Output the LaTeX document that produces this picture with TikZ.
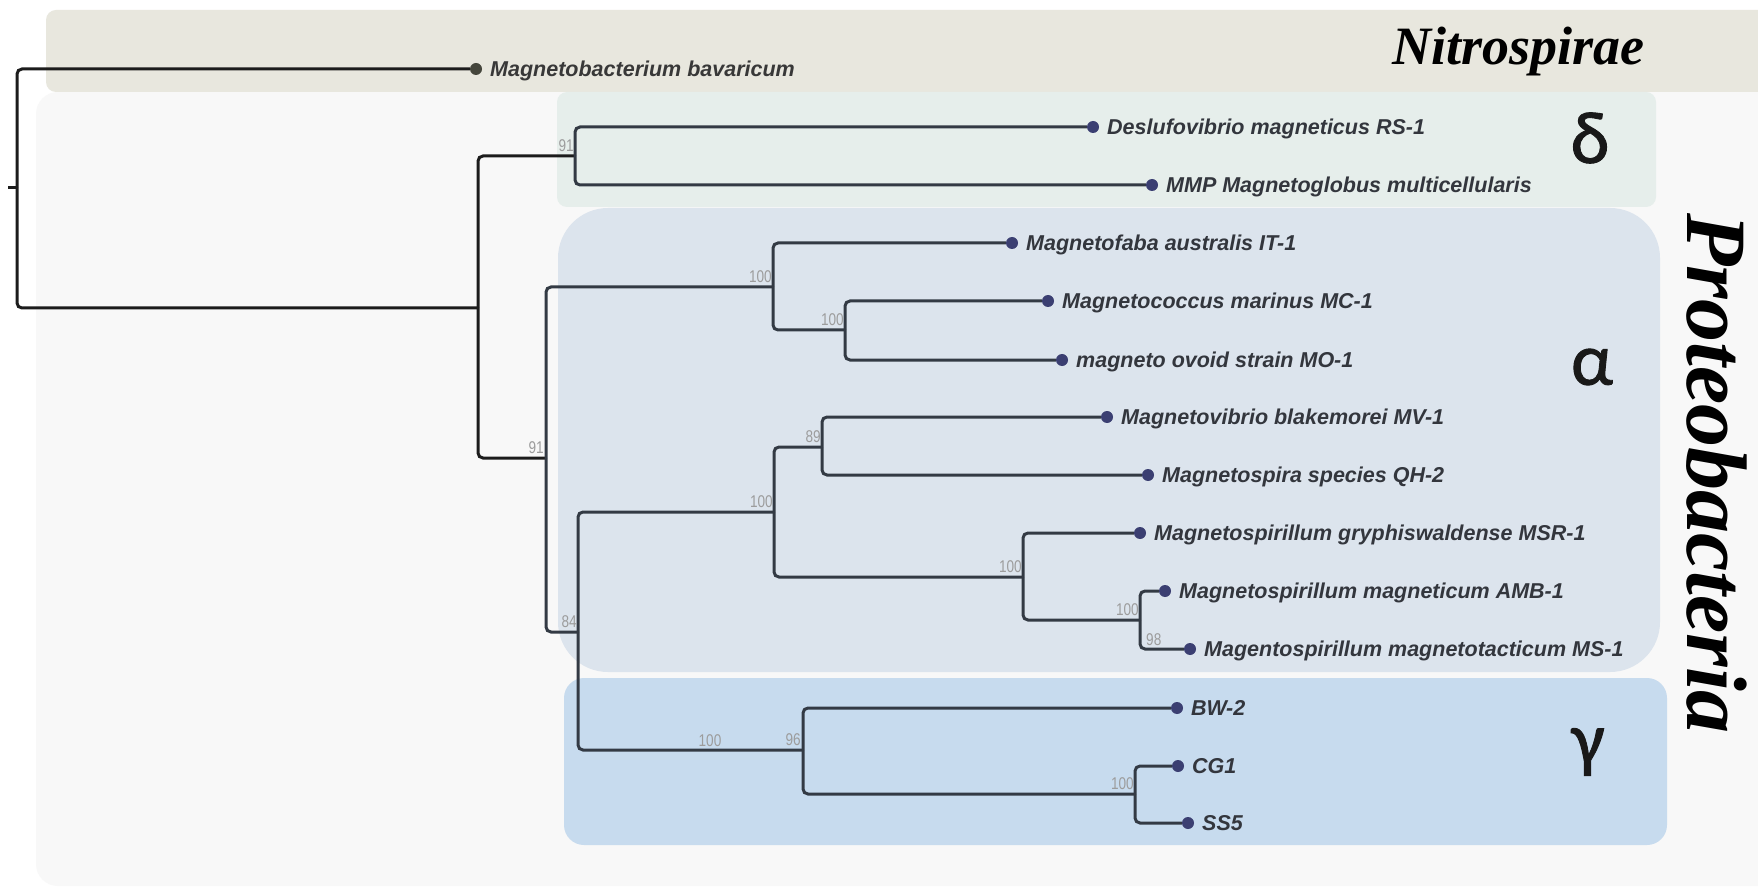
\documentclass[tikz,border=0pt]{standalone}
\usepackage{fontspec}
\setmainfont{Liberation Sans}
\newfontfamily\labfont{Liberation Sans}
\newfontfamily\bsfont[FakeStretch=0.8]{Liberation Sans}
\newfontfamily\titfont{Liberation Serif}
\newfontfamily\grkfont[FakeBold=1.2]{Carlito}
\definecolor{panelc}{HTML}{F8F8F8}
\definecolor{nitroc}{HTML}{E8E7DE}
\definecolor{deltac}{HTML}{E6EEEB}
\definecolor{alphac}{HTML}{DCE4ED}
\definecolor{gammac}{HTML}{C7DBEE}
\definecolor{rootc}{HTML}{1C1C1C}
\definecolor{branchc}{HTML}{333A44}
\definecolor{dotc}{HTML}{3B3F72}
\definecolor{dotg}{HTML}{45463C}
\definecolor{labc}{HTML}{33363D}
\definecolor{bsc}{HTML}{9C9C9C}
\tikzset{
  rootbr/.style={draw=rootc, line width=3pt, rounded corners=5pt},
  branch/.style={draw=branchc, line width=3pt, rounded corners=5pt},
  leafdot/.style={circle, fill=dotc, inner sep=0pt, minimum size=12pt},
  lab/.style={font=\labfont\bfseries\itshape\fontsize{21.5}{24}\selectfont, text=labc, inner sep=0pt, anchor=base west},
  bs/.style={font=\bsfont\fontsize{17}{18}\selectfont, text=bsc, inner sep=0pt, anchor=south east},
  grk/.style={font=\grkfont\fontsize{74}{80}\selectfont, text=black!90, inner sep=0pt, anchor=center},
  clade/.style={font=\titfont\bfseries\itshape, text=black, inner sep=0pt}
}
\begin{document}
\begin{tikzpicture}[x=1pt,y=-1pt]
\useasboundingbox (0,0) rectangle (1758,890);
\fill[white] (0,0) rectangle (1758,890);
\begin{scope}
\clip (0,0) rectangle (1758,890);
\fill[panelc, rounded corners=22pt] (36,92) rectangle (1790,886);
\fill[nitroc, rounded corners=10pt] (46,10) rectangle (1790,92);
\end{scope}
\fill[deltac, rounded corners=10pt] (557,92) rectangle (1656,207);
\fill[alphac, rounded corners=50pt] (558,208) rectangle (1660,672);
\fill[gammac, rounded corners=20pt] (564,678) rectangle (1667,845);

% clade names
\node[clade, font=\titfont\bfseries\itshape\fontsize{54}{60}\selectfont, anchor=base west] (nitro) at (1392,65) {Nitrospirae};
\node[clade, font=\titfont\bfseries\itshape\fontsize{86}{90}\selectfont, anchor=base west, rotate=-90] (proteo) at (1687,213) {Proteobacteria};
\node[grk] (delta) at (1590,138) {δ};
\node[grk] (alpha) at (1592,367) {α};
\node[grk] (gamma) at (1588,752) {γ};

% internal nodes
\coordinate (R0) at (8,188);
\coordinate (R) at (17,188);
\coordinate (P) at (478,308);
\coordinate (D) at (575,156);
\coordinate (Q) at (546,458);
\coordinate (A1) at (773,287);
\coordinate (A2) at (845,330);
\coordinate (N84) at (578,632);
\coordinate (A3) at (774,512);
\coordinate (B89) at (822,447);
\coordinate (S) at (1023,577);
\coordinate (S2) at (1140,620);
\coordinate (G) at (803,750);
\coordinate (G2) at (1135,794);

% leaves
\node[leafdot, fill=dotg] (l1) at (476,69) {};
\node[leafdot] (l2) at (1093,127) {};
\node[leafdot] (l3) at (1152,185) {};
\node[leafdot] (l4) at (1012,243) {};
\node[leafdot] (l5) at (1048,301) {};
\node[leafdot] (l6) at (1062,360) {};
\node[leafdot] (l7) at (1107,417) {};
\node[leafdot] (l8) at (1148,475) {};
\node[leafdot] (l9) at (1140,533) {};
\node[leafdot] (l10) at (1165,591) {};
\node[leafdot] (l11) at (1190,649) {};
\node[leafdot] (l12) at (1177,708) {};
\node[leafdot] (l13) at (1178,766) {};
\node[leafdot] (l14) at (1188,823) {};

% branches
\draw[rootbr] (R0) -- (R);
\draw[rootbr] (R) |- (l1);
\draw[rootbr] (R) |- (P);
\draw[rootbr] (P) |- (D);
\draw[rootbr] (P) |- (Q);
\draw[branch] (D) |- (l2);
\draw[branch] (D) |- (l3);
\draw[branch] (Q) |- (A1);
\draw[branch] (Q) |- (N84);
\draw[branch] (A1) |- (l4);
\draw[branch] (A1) |- (A2);
\draw[branch] (A2) |- (l5);
\draw[branch] (A2) |- (l6);
\draw[branch] (N84) |- (A3);
\draw[branch] (N84) |- (G);
\draw[branch] (A3) |- (B89);
\draw[branch] (A3) |- (S);
\draw[branch] (B89) |- (l7);
\draw[branch] (B89) |- (l8);
\draw[branch] (S) |- (l9);
\draw[branch] (S) |- (S2);
\draw[branch] (S2) |- (l10);
\draw[branch] (S2) |- (l11);
\draw[branch] (G) |- (l12);
\draw[branch] (G) |- (G2);
\draw[branch] (G2) |- (l13);
\draw[branch] (G2) |- (l14);

% leaf labels
\node[lab, text=black!78] (t1) at ([xshift=14pt,yshift=-7.5pt]l1.center) {Magnetobacterium bavaricum};
\node[lab] (t2) at ([xshift=14pt,yshift=-7.5pt]l2.center) {Deslufovibrio magneticus RS-1};
\node[lab] (t3) at ([xshift=14pt,yshift=-7.5pt]l3.center) {MMP Magnetoglobus multicellularis};
\node[lab] (t4) at ([xshift=14pt,yshift=-7.5pt]l4.center) {Magnetofaba australis IT-1};
\node[lab] (t5) at ([xshift=14pt,yshift=-7.5pt]l5.center) {Magnetococcus marinus MC-1};
\node[lab] (t6) at ([xshift=14pt,yshift=-7.5pt]l6.center) {magneto ovoid strain MO-1};
\node[lab] (t7) at ([xshift=14pt,yshift=-7.5pt]l7.center) {Magnetovibrio blakemorei MV-1};
\node[lab] (t8) at ([xshift=14pt,yshift=-7.5pt]l8.center) {Magnetospira species QH-2};
\node[lab] (t9) at ([xshift=14pt,yshift=-7.5pt]l9.center) {Magnetospirillum gryphiswaldense MSR-1};
\node[lab] (t10) at ([xshift=14pt,yshift=-7.5pt]l10.center) {Magnetospirillum magneticum AMB-1};
\node[lab] (t11) at ([xshift=14pt,yshift=-7.5pt]l11.center) {Magentospirillum magnetotacticum MS-1};
\node[lab] (t12) at ([xshift=14pt,yshift=-7.5pt]l12.center) {BW-2};
\node[lab] (t13) at ([xshift=14pt,yshift=-7.5pt]l13.center) {CG1};
\node[lab] (t14) at ([xshift=14pt,yshift=-7.5pt]l14.center) {SS5};

% bootstrap values
\node[bs] (bD) at ([xshift=-1pt,yshift=4pt]D) {91};
\node[bs] (bQ) at ([xshift=-2pt,yshift=4pt]Q) {91};
\node[bs] (bA1) at ([xshift=-1pt,yshift=4pt]A1) {100};
\node[bs] (bA2) at ([xshift=-1pt,yshift=4pt]A2) {100};
\node[bs] (bN84) at ([xshift=-1pt,yshift=4pt]N84) {84};
\node[bs] (bA3) at ([xshift=-1pt,yshift=4pt]A3) {100};
\node[bs] (bB89) at ([xshift=-1pt,yshift=4pt]B89) {89};
\node[bs] (bS) at ([xshift=-1pt,yshift=4pt]S) {100};
\node[bs] (bS2) at ([xshift=-1pt,yshift=4pt]S2) {100};
\node[bs, anchor=south west] (b98) at (1146,646) {98};
\node[bs, anchor=south] (bG0) at (710,747) {100};
\node[bs] (bG) at ([xshift=-2pt,yshift=4pt]G) {96};
\node[bs] (bG2) at ([xshift=-1pt,yshift=4pt]G2) {100};
\end{tikzpicture}
\end{document}
